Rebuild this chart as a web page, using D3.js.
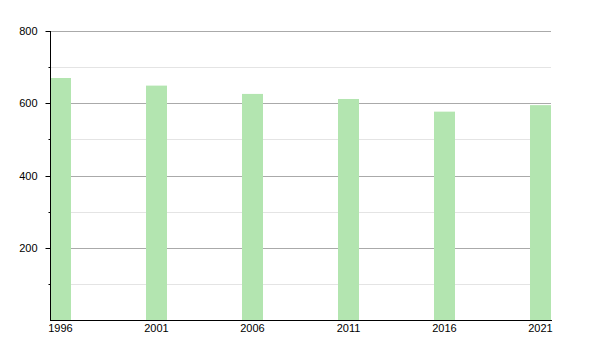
<!DOCTYPE html>
<html>
<head>
<meta charset="utf-8">
<script src="https://cdn.jsdelivr.net/npm/d3@7"></script>
<style>
  body { margin: 0; background: #fff; }
  text { font-family: "Liberation Sans", Arial, sans-serif; }
</style>
</head>
<body>
<div id="chart"></div>
<script>
const years = [1996, 2001, 2006, 2011, 2016, 2021];
const population = [670, 649, 626, 612, 577, 595];
const majorTicks = [200, 400, 600, 800];
const minorTicks = [100, 300, 500, 700];

const sizes = {width: 600, height: 350, margin: {top: 31, right: 49, bottom: 30, left: 50}};
const barWidth = 21;

const svg = d3.select("#chart").append("svg")
  .attr("width", sizes.width)
  .attr("height", sizes.height);

const x = d3.scaleLinear()
  .domain([1996, 2021])
  .range([sizes.margin.left, sizes.width - sizes.margin.right - barWidth]);

const y = d3.scaleLinear()
  .domain([0, 800])
  .range([sizes.height - sizes.margin.bottom + 0.3, sizes.margin.top]);

const x0 = sizes.margin.left, x1 = sizes.width - sizes.margin.right;

// gridlines
svg.append("g").selectAll("line.minor")
  .data(minorTicks).enter().append("line")
    .attr("x1", x0).attr("x2", x1)
    .attr("y1", d => Math.round(y(d)) + 0.5).attr("y2", d => Math.round(y(d)) + 0.5)
    .style("stroke", "#e4e4e4");

svg.append("g").selectAll("line.major")
  .data(majorTicks).enter().append("line")
    .attr("x1", x0).attr("x2", x1)
    .attr("y1", d => Math.round(y(d)) + 0.5).attr("y2", d => Math.round(y(d)) + 0.5)
    .style("stroke", "#aaa");

// bars
svg.append("g").selectAll("rect")
  .data(years).enter().append("rect")
    .attr("x", d => x(d))
    .attr("y", (d, i) => y(population[i]))
    .attr("width", barWidth)
    .attr("height", (d, i) => y(0) - y(population[i]))
    .style("fill", "#b3e5b0");

// y axis
const yAxis = svg.append("g")
  .attr("transform", `translate(${x0 + 0.5},0)`);
yAxis.append("line")
  .attr("y1", y(800)).attr("y2", y(0))
  .style("stroke", "#000");
yAxis.selectAll("line.maj").data(majorTicks).enter().append("line")
  .attr("x1", -5).attr("x2", 0)
  .attr("y1", d => Math.round(y(d)) + 0.5).attr("y2", d => Math.round(y(d)) + 0.5)
  .style("stroke", "#000");
yAxis.selectAll("line.min").data(minorTicks).enter().append("line")
  .attr("x1", -2).attr("x2", 0)
  .attr("y1", d => Math.round(y(d)) + 0.5).attr("y2", d => Math.round(y(d)) + 0.5)
  .style("stroke", "#000");
yAxis.selectAll("text").data(majorTicks).enter().append("text")
  .text(d => d)
  .attr("x", -13)
  .attr("y", d => y(d))
  .attr("dy", "0.35em")
  .style("text-anchor", "end")
  .style("font-size", "11px")
  .style("fill", "#000");

// x axis
const xAxis = svg.append("g");
xAxis.append("line")
  .attr("x1", x0).attr("x2", x1 + 1)
  .attr("y1", Math.round(y(0)) + 0.5).attr("y2", Math.round(y(0)) + 0.5)
  .style("stroke", "#000");
xAxis.selectAll("text").data(years).enter().append("text")
  .text(d => d)
  .attr("x", d => x(d) + barWidth / 2)
  .attr("y", y(0) + 12)
  .style("text-anchor", "middle")
  .style("font-size", "11px")
  .style("fill", "#000");
</script>
</body>
</html>
